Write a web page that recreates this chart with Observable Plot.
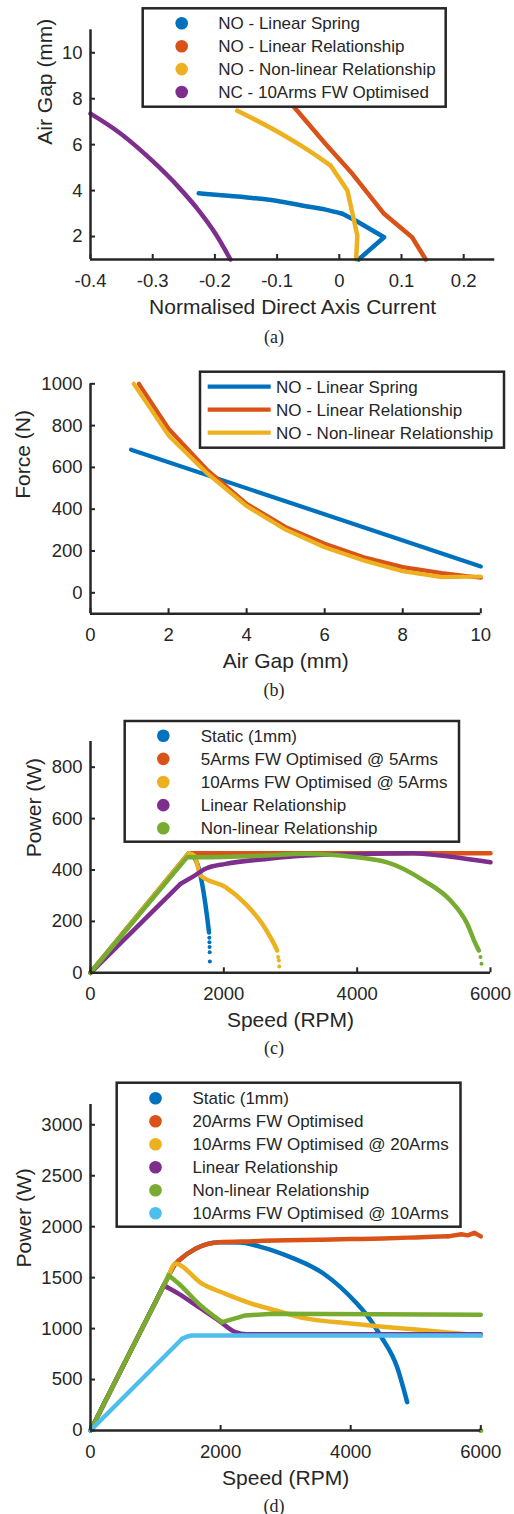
<!DOCTYPE html>
<html><head><meta charset="utf-8">
<script src="https://cdn.jsdelivr.net/npm/d3@7"></script>
<script src="https://cdn.jsdelivr.net/npm/@observablehq/plot@0.6"></script>
<style>
body{margin:0;background:#fff;}
#root{position:relative;width:514px;height:1514px;overflow:hidden;background:#fff;}
.cap{position:absolute;font-family:"Liberation Serif","Times New Roman",serif;font-size:18px;color:#262626;transform:translate(-50%,-50%);white-space:nowrap;}
</style></head><body><div id="root"></div>
<script>
// ---------- Panel (a): Air gap vs normalised direct-axis current ----------
const aSeries = ["NO - Linear Spring","NO - Linear Relationship","NO - Non-linear Relationship","NC - 10Arms FW Optimised"];
const aSpringX = [-0.226,-0.194,-0.14,-0.097,-0.06,-0.022,0.005,0.026,0.072,0.031];
const aSpringY = [3.88,3.81,3.68,3.54,3.35,3.17,2.99,2.70,1.97,1.0];
const aLinX = [-0.085,-0.070,-0.022,0.021,0.072,0.117,0.139];
const aLinY = [8.0,7.55,6.03,4.73,2.99,1.97,1.0];
const aNonX = [-0.164,-0.097,-0.049,-0.014,0.013,0.029,0.027];
const aNonY = [7.48,6.53,5.74,5.09,4.0,2.04,1.0];
const aNcX = [-0.4,-0.3545,-0.3008,-0.258,-0.2259,-0.199,-0.175];
const aNcY = [7.35,6.54,5.30,4.14,3.13,2.12,1.0];
const aXTicks = [-0.4,-0.3,-0.2,-0.1,0,0.1,0.2];
const aYTicks = [2,4,6,8,10];

// ---------- Panel (b): Force vs air gap ----------
const bSeries = ["NO - Linear Spring","NO - Linear Relationship","NO - Non-linear Relationship"];
const bSpringX = [1.04,10];
const bSpringY = [685,126];
const bLinX = [1.24,2,3,4,5,6,7,8,9,10];
const bLinY = [1000,785,586,426,314,235,170,123,94,72];
const bNonX = [1.11,2,3,4,5,6,7,8,9,10];
const bNonY = [1000,753,570,415,302,218,155,103,75,78];
const bXTicks = [0,2,4,6,8,10];
const bYTicks = [0,200,400,600,800,1000];

// ---------- Panel (c): Power vs speed @ 5Arms ----------
const cSeries = ["Static (1mm)","5Arms FW Optimised @ 5Arms","10Arms FW Optimised @ 5Arms","Linear Relationship","Non-linear Relationship"];
const cStaticX = [0,1475,1560,1640,1700,1750,1778];
const cStaticY = [0,465,447,390,307,216,157];
const cStaticTailX = [1782,1784,1786,1788,1790];
const cStaticTailY = [136,119,100,80,44];
const c5X = [0,1475,6000];
const c5Y = [0,465,465];
const c10X = [0,1475,1560,1650,2025,2325,2575,2725,2800];
const c10Y = [0,465,455,379,333,268,191,126,87];
const c10TailX = [2815,2825,2830];
const c10TailY = [61,48,25];
const cLinX = [0,1350,1525,1725,2025,2675,3225,4000,4850,5250,5600,6000];
const cLinY = [0,346,372,405,424,444,456,462,465,456,445,430];
const cNonX = [0,1450,1625,2500,3225,3750,4450,5000,5400,5650,5775,5825];
const cNonY = [0,450,450,455,463,456,430,359,281,191,113,87];
const cNonTailX = [5850,5865];
const cNonTailY = [61,35];
const cXTicks = [0,2000,4000,6000];
const cYTicks = [0,200,400,600,800];

// ---------- Panel (d): Power vs speed @ 20Arms ----------
const dSeries = ["Static (1mm)","20Arms FW Optimised","10Arms FW Optimised @ 20Arms","Linear Relationship","Non-linear Relationship","10Arms FW Optimised @ 10Arms"];
const dStaticX = [0,1204,1306,1358,1614,1972,2300,2600,3074,3586,4099,4227,4457,4714,4868];
const dStaticY = [0,1521,1636,1668,1783,1848,1845,1805,1701,1538,1243,1150,932,621,278];
const d20X = [0,1204,1306,1358,1614,1972,2500,3000,3500,4000,4500,5000,5500,5700,5800,5900,6000];
const d20Y = [0,1521,1636,1668,1783,1848,1858,1868,1872,1878,1885,1895,1905,1925,1915,1940,1905];
const d10at20X = [0,1204,1306,1716,2075,2485,2894,3305,4000,4457,5000,6000];
const d10at20Y = [0,1521,1636,1440,1341,1243,1170,1100,1050,1021,990,932];
const dLinX = [0,1130,1178,1358,1665,1972,2229,2400,6000];
const dLinY = [0,1427,1406,1341,1210,1079,965,945,945];
const dNonX = [0,1204,1358,1665,2024,2382,2793,6000];
const dNonY = [0,1521,1440,1243,1063,1129,1145,1135];
const dNonEndX = [6000];
const dNonEndY = [0];
const d10at10X = [0,1409,1563,6000];
const d10at10Y = [0,900,932,932];
const dXTicks = [0,2000,4000,6000];
const dYTicks = [0,500,1000,1500,2000,2500,3000];

// ---------- rendering ----------
const W = 514;
const INK = "#262626";
const FONT = '"Liberation Sans", Arial, Helvetica, sans-serif';
const COL = {blue:"#0072BD", orange:"#D95319", yellow:"#EDB120", purple:"#7E2F8E", green:"#77AC30", cyan:"#4DBEEE"};
const root = document.getElementById("root");

function rows(xs, ys){ return xs.map((x,i)=>({x, y: ys[i]})); }
// draw a series; indices [i0..i1] may use a smooth curve, the rest straight
function series(xs, ys, color, sw, smooth){
  const out = [];
  const opts = c => ({x:"x", y:"y", stroke: color, strokeWidth: sw, strokeLinecap:"round", strokeLinejoin:"round", curve: c});
  if (!smooth) return [Plot.line(rows(xs, ys), opts("linear"))];
  const [i0, i1] = smooth;
  if (i0 > 0) out.push(Plot.line(rows(xs.slice(0, i0+1), ys.slice(0, i0+1)), opts("linear")));
  out.push(Plot.line(rows(xs.slice(i0, i1+1), ys.slice(i0, i1+1)), opts("monotone-x")));
  if (i1 < xs.length - 1) out.push(Plot.line(rows(xs.slice(i1), ys.slice(i1)), opts("linear")));
  return out;
}
function dt(xs, ys, color, r){
  return Plot.dot(rows(xs,ys), {x:"x", y:"y", fill: color, r: r});
}

function panel(cfg){
  const innerW = W - 90 - cfg.mr;
  const innerH = cfg.height - cfg.mt - cfg.mb;
  const plot = Plot.plot({
    width: W, height: cfg.height,
    marginTop: cfg.mt, marginBottom: cfg.mb, marginLeft: 90, marginRight: cfg.mr,
    style: {fontFamily: FONT, fontSize: "18.5px", color: INK, background: "transparent", overflow: "visible"},
    x: {domain: cfg.xDomain},
    y: {domain: cfg.yDomain},
    marks: [
      ...cfg.marks.flat(),
      Plot.ruleX([cfg.xDomain[0]], {stroke: INK, strokeWidth: 2.5}),
      Plot.ruleY([cfg.yDomain[0]], {stroke: INK, strokeWidth: 2.5}),
      Plot.tickX(cfg.xTicks, {x: d=>d, insetTop: innerH - 5, stroke: INK, strokeWidth: 2}),
      Plot.tickY(cfg.yTicks, {y: d=>d, insetRight: innerW - 5, stroke: INK, strokeWidth: 2}),
      Plot.axisX({ticks: cfg.xTicks, tickSize: 0, tickPadding: 14, label: null, tickFormat: d=>String(d), fill: INK}),
      Plot.axisY({ticks: cfg.yTicks, tickSize: 0, tickPadding: 8, label: null, tickFormat: d=>String(d), fill: INK}),
      Plot.text([cfg.xLabel], {text: d=>d, frameAnchor: "bottom", lineAnchor: "top", dy: 39.5, fontSize: 21, fill: INK}),
      Plot.text([cfg.yLabel], {text: d=>d, frameAnchor: "left", rotate: -90, lineAnchor: "middle", dx: cfg.ylDx, fontSize: 21, fill: INK})
    ]
  });
  plot.style.position = "absolute";
  plot.style.left = "0px";
  plot.style.top = cfg.top + "px";
  root.appendChild(plot);
}

panel({
  top: 0, height: 330, mt: 29.3, mb: 71, mr: 19.7,
  xDomain: [-0.4, 0.25], yDomain: [1, 11], xTicks: aXTicks, yTicks: aYTicks,
  xLabel: "Normalised Direct Axis Current", yLabel: "Air Gap (mm)", ylDx: -45.7,
  marks: [
    series(aSpringX, aSpringY, COL.blue, 4.5, [0, 6]),
    series(aLinX, aLinY, COL.orange, 4.5),
    series(aNonX, aNonY, COL.yellow, 4.5, [0, 3]),
    series(aNcX, aNcY, COL.purple, 4.5, [0, 6])
  ]
});

panel({
  top: 340, height: 360, mt: 43.3, mb: 86.8, mr: 33.7,
  xDomain: [0, 10], yDomain: [-100, 1000], xTicks: bXTicks, yTicks: bYTicks,
  xLabel: "Air Gap (mm)", yLabel: "Force (N)", ylDx: -67.7,
  marks: [
    series(bSpringX, bSpringY, COL.blue, 4.2),
    series(bLinX, bLinY, COL.orange, 4.2),
    series(bNonX, bNonY, COL.yellow, 4.2)
  ]
});

panel({
  top: 720, height: 330, mt: 21, mb: 77.7, mr: 24,
  xDomain: [0, 6000], yDomain: [0, 900], xTicks: cXTicks, yTicks: cYTicks,
  xLabel: "Speed (RPM)", yLabel: "Power (W)", ylDx: -56.7,
  marks: [
    series(cStaticX, cStaticY, COL.blue, 4.5, [1, 6]),
    dt(cStaticTailX, cStaticTailY, COL.blue, 2),
    series(c5X, c5Y, COL.orange, 4.5),
    series(c10X, c10Y, COL.yellow, 4.5, [1, 8]),
    dt(c10TailX, c10TailY, COL.yellow, 2),
    series(cLinX, cLinY, COL.purple, 4.5, [1, 11]),
    series(cNonX, cNonY, COL.green, 4.5, [1, 11]),
    dt(cNonTailX, cNonTailY, COL.green, 2)
  ]
});

panel({
  top: 1080, height: 420, mt: 23.9, mb: 70, mr: 33.7,
  xDomain: [0, 6000], yDomain: [0, 3200], xTicks: dXTicks, yTicks: dYTicks,
  xLabel: "Speed (RPM)", yLabel: "Power (W)", ylDx: -66.7,
  marks: [
    series(dStaticX, dStaticY, COL.blue, 4.5, [1, 14]),
    series(d20X, d20Y, COL.orange, 4.5, [1, 12]),
    series(d10at20X, d10at20Y, COL.yellow, 4.5, [1, 11]),
    series(dLinX, dLinY, COL.purple, 4.5, [2, 8]),
    series(dNonX, dNonY, COL.green, 4.5, [1, 4]),
    dt(dNonEndX, dNonEndY, COL.green, 2.5),
    series(d10at10X, d10at10Y, COL.cyan, 4.5, [1, 3])
  ]
});

// ---------- legends (overlay) ----------
const overlay = d3.select(root).append("svg")
  .attr("width", W).attr("height", 1514)
  .style("position","absolute").style("left","0px").style("top","0px")
  .style("pointer-events","none");

function legend(box, labels, colors, kind){
  const g = overlay.append("g");
  g.append("rect")
    .attr("x", box.x0).attr("y", box.y0)
    .attr("width", box.x1 - box.x0).attr("height", box.y1 - box.y0)
    .attr("fill", "#fff").attr("stroke", INK).attr("stroke-width", 2.5);
  labels.forEach((lab, i) => {
    const cy = box.rowY0 + i * box.rowStep;
    if (kind === "dot") {
      g.append("circle").attr("cx", box.mx).attr("cy", cy).attr("r", 6.3).attr("fill", colors[i]);
    } else {
      g.append("line").attr("x1", box.lx1).attr("x2", box.lx2).attr("y1", cy).attr("y2", cy)
        .attr("stroke", colors[i]).attr("stroke-width", 4.2);
    }
    g.append("text").attr("x", box.tx).attr("y", cy + 6)
      .attr("font-family", FONT).attr("font-size", 17).attr("fill", INK).text(lab);
  });
}

legend({x0:142.7, y0:8.3, x1:445.7, y1:106.7, rowY0:23.3, rowStep:22.9, mx:181.7, tx:218.3},
  aSeries, [COL.blue, COL.orange, COL.yellow, COL.purple], "dot");
legend({x0:200, y0:371.7, x1:504, y1:447.7, rowY0:386.7, rowStep:23, lx1:207.7, lx2:270.7, tx:276},
  bSeries, [COL.blue, COL.orange, COL.yellow], "line");
legend({x0:124.7, y0:721, x1:459, y1:841.7, rowY0:735.7, rowStep:23.15, mx:163.3, tx:200.7},
  cSeries, [COL.blue, COL.orange, COL.yellow, COL.purple, COL.green], "dot");
legend({x0:116.7, y0:1082.7, x1:460.5, y1:1226.7, rowY0:1098.3, rowStep:23, mx:155.5, tx:192.5},
  dSeries, [COL.blue, COL.orange, COL.yellow, COL.purple, COL.green, COL.cyan], "dot");

// ---------- captions ----------
const captions = [["(a)", 337], ["(b)", 690], ["(c)", 1048], ["(d)", 1506]];
captions.forEach(([t, y]) => {
  const el = document.createElement("div");
  el.className = "cap";
  el.textContent = t;
  el.style.left = "274px";
  el.style.top = y + "px";
  root.appendChild(el);
});
</script></body></html>
